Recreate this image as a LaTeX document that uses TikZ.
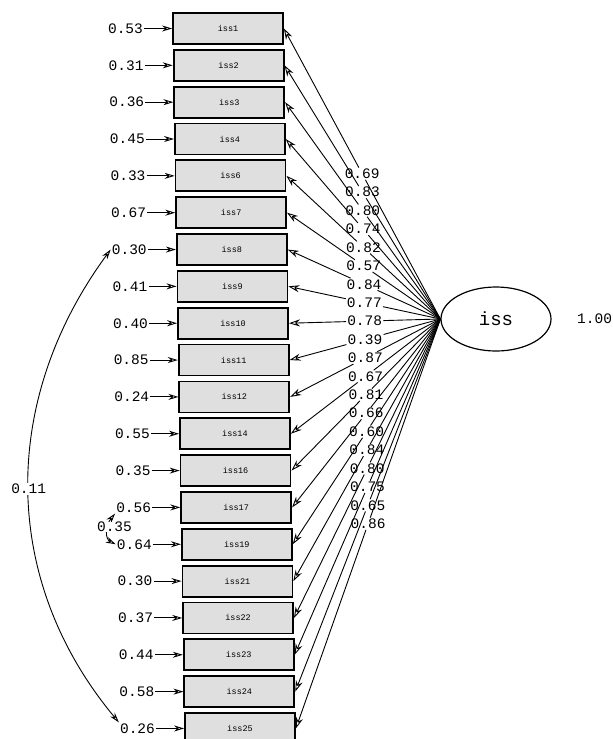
\documentclass[tikz,border=0pt]{standalone}
\usepackage{fontspec}
\newfontfamily\monofont{Liberation Mono}
\usetikzlibrary{calc,arrows.meta,shapes.geometric}
\begin{document}
\begin{tikzpicture}[x=1pt,y=-1pt,
  obsbox/.style={draw=black, line width=1.8pt, fill=gray!25, minimum width=110pt, minimum height=31pt, inner sep=0pt, font=\monofont\fontsize{8.5}{9}\selectfont},
  numlbl/.style={inner sep=1pt, font=\monofont\fontsize{14.5}{16}\selectfont},
  latent/.style={draw, ellipse, line width=1.2pt, minimum width=110pt, minimum height=64pt, inner sep=0pt, font=\monofont\fontsize{19}{20}\selectfont},
  pathline/.style={line width=0.9pt},
  loadarrow/.style={line width=0.9pt, -{Stealth[open,length=11pt,width=7pt]}},
  errarrow/.style={line width=0.9pt, -{Stealth[open,length=10pt,width=6pt]}},
  covarrow/.style={line width=0.9pt, {Stealth[open,length=10pt,width=6pt]}-{Stealth[open,length=10pt,width=6pt]}},
]
\clip (0,0) rectangle (613,739);
\node[latent] (lat) at (496,319) {iss};
\node[numlbl, anchor=west] (var) at (576,319) {1.00};
\foreach \n/\e/\l [count=\i from 0] in {iss1/0.53/0.69, iss2/0.31/0.83, iss3/0.36/0.80, iss4/0.45/0.74, iss6/0.33/0.82, iss7/0.67/0.57, iss8/0.30/0.84, iss9/0.41/0.77, iss10/0.40/0.78, iss11/0.85/0.39, iss12/0.24/0.87, iss14/0.55/0.67, iss16/0.35/0.81, iss17/0.56/0.66, iss19/0.64/0.60, iss21/0.30/0.84, iss22/0.37/0.80, iss23/0.44/0.75, iss24/0.58/0.65, iss25/0.26/0.86} {
  \node[obsbox] (b\i) at ({228+0.63*\i},{28.5+36.84*\i}) {\n};
  \node[numlbl, anchor=east] (e\i) at ($(b\i.west)+(-28,0)$) {\e};
  \draw[errarrow] (e\i) -- (b\i);
  \node[numlbl] (l\i) at ($(b\i.east)!0.5!(lat.west)$) {\l};
  \draw[pathline] (lat.west) -- (l\i);
  \draw[loadarrow] (l\i) -- (b\i.east);
}
\draw[covarrow] (e6.west) .. controls (0,400) and (0,580) .. (e19.north west)
  node[pos=0.5, numlbl, fill=white] (c1) {0.11};
\draw[covarrow] (e13.south west) .. controls (105,526) and (105,539) .. (e14.west);
\node[numlbl, fill=white, inner sep=0.5pt] (c2) at (114.5,527) {0.35};
\end{tikzpicture}
\end{document}
